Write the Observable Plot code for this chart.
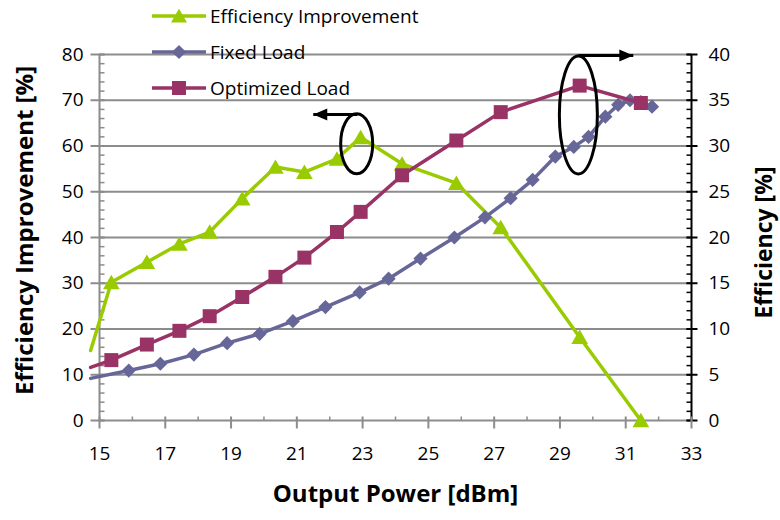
<!DOCTYPE html>
<html><head><meta charset="utf-8">
<script src="https://cdn.jsdelivr.net/npm/d3@7"></script>
<script src="https://cdn.jsdelivr.net/npm/@observablehq/plot@0.6"></script>
<style>
body{margin:0;background:#fff;}
#wrap{position:relative;width:780px;height:520px;font-family:"Open Sans", sans-serif;}
#legend{position:absolute;left:150px;top:-2px;}
.item{display:flex;align-items:center;height:36px;font-size:19px;color:#000;}
.item svg{margin-right:2px;}
</style></head><body><div id="wrap"><div id="chart"></div><div id="legend"></div></div>
<script>
// ---- data ----
const seriesNames = ["Efficiency Improvement", "Fixed Load", "Optimized Load"];
// Output power (dBm) for Optimized Load / Efficiency Improvement
const optX = [14.73, 15.36, 16.44, 17.43, 18.35, 19.34, 20.35, 21.23, 22.22, 22.94, 24.2, 25.85, 27.2, 29.6, 31.46];
const improvement = [15.3, 30.2, 34.6, 38.6, 41.2, 48.5, 55.4, 54.3, 57.2, 61.9, 56.1, 51.9, 42.2, 18.2, 0];
const optimized = [5.8, 6.6, 8.3, 9.8, 11.4, 13.5, 15.7, 17.8, 20.6, 22.8, 26.8, 30.6, 33.7, 36.6, 34.7];
// Output power (dBm) for Fixed Load
const fixX = [14.73, 15.89, 16.85, 17.87, 18.88, 19.87, 20.88, 21.87, 22.91, 23.79, 24.76, 25.79, 26.72, 27.5, 28.17, 28.86, 29.42, 29.87, 30.38, 30.77, 31.13, 31.46, 31.8];
const fixed = [4.6, 5.46, 6.2, 7.2, 8.45, 9.47, 10.85, 12.4, 14.0, 15.5, 17.7, 20.0, 22.2, 24.3, 26.3, 28.85, 29.9, 31.0, 33.2, 34.5, 35.0, 34.8, 34.3];
// axes
const xTicks = [15, 17, 19, 21, 23, 25, 27, 29, 31, 33];
const xMinor = [16, 18, 20, 22, 24, 26, 28, 30, 32];
const leftTicks = [0, 10, 20, 30, 40, 50, 60, 70, 80];
const rightTicks = [0, 5, 10, 15, 20, 25, 30, 35, 40];
const minorLeft = d3.range(0, 81, 2);
// annotations: ellipse centres and arrow ends (x in dBm, y in left-axis %)
const ellipseLeft = [{x: 22.82, y: 60.5}];
const ellipseRight = [{x: 29.56, y: 66.8}];
const arrowLeft = [{x1: 22.84, y1: 66.9, x2: 21.5, y2: 66.9}];
const arrowRight = [{x1: 29.56, y1: 79.8, x2: 31.23, y2: 79.8}];

const GREEN = "#99cc00", BLUE = "#666699", RED = "#993366", GRID = "#8c8c8c";

const impData = optX.map((x, i) => ({x, y: improvement[i]}));
const optData = optX.map((x, i) => ({x, y: optimized[i] * 2}));
const fixData = fixX.map((x, i) => ({x, y: fixed[i] * 2}));
const shown = d => d.x >= 15;

const hSeg = (a, b) => ({draw(ctx) { ctx.moveTo(a, 0); ctx.lineTo(b, 0); }});
const vSeg = (a, b) => ({draw(ctx) { ctx.moveTo(0, a); ctx.lineTo(0, b); }});
const ellipse = (rx, ry) => ({draw(ctx) {
  const k = 0.5523;
  ctx.moveTo(rx, 0);
  ctx.bezierCurveTo(rx, ry * k, rx * k, ry, 0, ry);
  ctx.bezierCurveTo(-rx * k, ry, -rx, ry * k, -rx, 0);
  ctx.bezierCurveTo(-rx, -ry * k, -rx * k, -ry, 0, -ry);
  ctx.bezierCurveTo(rx * k, -ry, rx, -ry * k, rx, 0);
  ctx.closePath();
}});
const head = (dir) => ({draw(ctx) {
  ctx.moveTo(0, 0); ctx.lineTo(-14 * dir, -6); ctx.lineTo(-14 * dir, 6); ctx.closePath();
}});

const chart = Plot.plot({
  width: 780, height: 520,
  marginLeft: 99, marginRight: 89, marginTop: 54, marginBottom: 100,
  x: {domain: [15, 33], axis: null},
  y: {domain: [0, 80], axis: null},
  style: {fontFamily: "'Open Sans', sans-serif", fontSize: "19px", color: "#000", background: "#fff", overflow: "visible"},
  marks: [
    Plot.ruleY(leftTicks.filter(d => d > 0), {stroke: GRID, strokeWidth: 2}),
    Plot.ruleY([0], {stroke: GRID, strokeWidth: 2}),
    Plot.ruleX([15], {stroke: GRID, strokeWidth: 2}),
    Plot.ruleX([33], {stroke: "#000", strokeWidth: 2}),
    // left ticks
    Plot.dot(leftTicks, {y: d => d, frameAnchor: "left", symbol: hSeg(-9, 5), stroke: GRID, strokeWidth: 2, r: 3}),
    Plot.dot(minorLeft, {y: d => d, frameAnchor: "left", symbol: hSeg(0, 5), stroke: GRID, strokeWidth: 1.5, r: 3}),
    // right ticks
    Plot.dot(rightTicks, {y: d => d * 2, frameAnchor: "right", symbol: hSeg(-5, 6), stroke: "#000", strokeWidth: 2, r: 3}),
    Plot.dot(minorLeft, {y: d => d, frameAnchor: "right", symbol: hSeg(-5, 0), stroke: "#000", strokeWidth: 1.5, r: 3}),
    // x ticks
    Plot.dot(xTicks, {x: d => d, frameAnchor: "bottom", symbol: vSeg(-4, 8), stroke: GRID, strokeWidth: 2, r: 3}),
    Plot.dot(xMinor, {x: d => d, frameAnchor: "bottom", symbol: vSeg(-4, 0), stroke: GRID, strokeWidth: 1.5, r: 3}),
    // tick labels
    Plot.text(leftTicks, {y: d => d, frameAnchor: "left", dx: -16, textAnchor: "end", text: d => String(d), fontSize: 19}),
    Plot.text(rightTicks, {y: d => d * 2, frameAnchor: "right", dx: 17, textAnchor: "start", text: d => String(d), fontSize: 19}),
    Plot.text(xTicks, {x: d => d, frameAnchor: "bottom", dy: 39, text: d => String(d), fontSize: 19}),
    // axis titles
    Plot.text(["Efficiency Improvement [%]"], {frameAnchor: "left", dx: -74, dy: -7, rotate: -90, textAnchor: "middle", fontWeight: "bold", fontSize: 24}),
    Plot.text(["Efficiency [%]"], {frameAnchor: "right", dx: 73, dy: 5, rotate: -90, textAnchor: "middle", fontWeight: "bold", fontSize: 23}),
    Plot.text(["Output Power [dBm]"], {frameAnchor: "bottom", dy: 81, fontWeight: "bold", fontSize: 24}),
    // series
    Plot.line(impData, {x: "x", y: "y", stroke: GREEN, strokeWidth: 3.5}),
    Plot.dot(impData.filter(shown), {x: "x", y: "y", symbol: "triangle", r: 6.2, fill: GREEN, dy: 2}),
    Plot.line(fixData, {x: "x", y: "y", stroke: BLUE, strokeWidth: 3.5}),
    Plot.dot(fixData.filter(shown), {x: "x", y: "y", symbol: "diamond2", r: 6.4, fill: BLUE}),
    Plot.line(optData, {x: "x", y: "y", stroke: RED, strokeWidth: 3.5}),
    Plot.dot(optData.filter(shown), {x: "x", y: "y", symbol: "square", r: 7.9, fill: RED}),
    // annotations
    Plot.dot(ellipseLeft, {x: "x", y: "y", symbol: ellipse(16, 30), r: 5, fill: "none", stroke: "#000", strokeWidth: 3}),
    Plot.dot(ellipseRight, {x: "x", y: "y", symbol: ellipse(19, 59), r: 5, fill: "none", stroke: "#000", strokeWidth: 3}),
    Plot.link(arrowLeft, {x1: "x1", y1: "y1", x2: "x2", y2: "y2", stroke: "#000", strokeWidth: 3}),
    Plot.dot(arrowLeft, {x: "x2", y: "y2", symbol: head(-1), r: 5, fill: "#000", stroke: "none"}),
    Plot.link(arrowRight, {x1: "x1", y1: "y1", x2: "x2", y2: "y2", stroke: "#000", strokeWidth: 3}),
    Plot.dot(arrowRight, {x: "x2", y: "y2", symbol: head(1), r: 5, fill: "#000", stroke: "none"})
  ]
});
document.getElementById("chart").appendChild(chart);

// legend
const legendSpec = [
  {name: seriesNames[0], color: GREEN, sym: d3.symbolTriangle, size: 111, dy: 2},
  {name: seriesNames[1], color: BLUE, sym: d3.symbolDiamond2, size: 128, dy: 0},
  {name: seriesNames[2], color: RED, sym: d3.symbolSquare, size: 196, dy: 0}
];
const leg = d3.select("#legend");
for (const s of legendSpec) {
  const row = leg.append("div").attr("class", "item");
  const svg = row.append("svg").attr("width", 58).attr("height", 20);
  svg.append("line").attr("x1", 2).attr("x2", 56).attr("y1", 10).attr("y2", 10)
    .attr("stroke", s.color).attr("stroke-width", 3.5);
  svg.append("path").attr("d", d3.symbol(s.sym, s.size)())
    .attr("transform", `translate(29,${10 + s.dy})`).attr("fill", s.color);
  row.append("span").text(s.name);
}
</script>
</body></html>
